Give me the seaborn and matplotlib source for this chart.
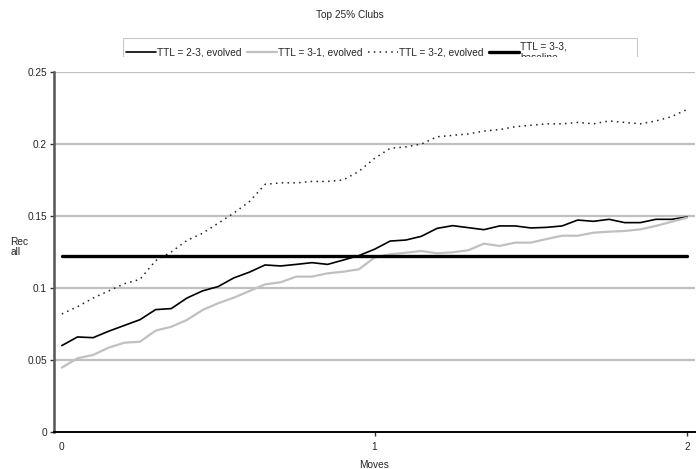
import numpy as np
import pandas as pd
import matplotlib
matplotlib.use("Agg")
import matplotlib.pyplot as plt
from matplotlib.patches import Rectangle
import seaborn as sns

# ---- data ----
moves = [round(i * 0.05, 2) for i in range(41)]
ttl_23 = [0.060, 0.066, 0.0655, 0.070, 0.074, 0.078, 0.085, 0.0857, 0.093, 0.098,
          0.101, 0.107, 0.111, 0.116, 0.1153, 0.1164, 0.1176, 0.1164, 0.1194, 0.1225,
          0.1269, 0.1326, 0.1333, 0.1359, 0.1414, 0.1433, 0.1419, 0.1405, 0.1431, 0.1431,
          0.1417, 0.1421, 0.1431, 0.1472, 0.1463, 0.1477, 0.1454, 0.1454, 0.1477, 0.1477,
          0.1493]
ttl_31 = [0.0447, 0.0512, 0.0535, 0.0586, 0.0620, 0.0627, 0.0704, 0.0731, 0.0778, 0.0847,
          0.0894, 0.0933, 0.0979, 0.1025, 0.104, 0.1079, 0.1079, 0.1102, 0.1113, 0.1130,
          0.1211, 0.1234, 0.1245, 0.1257, 0.1241, 0.1248, 0.1262, 0.1308, 0.1292, 0.1315,
          0.1315, 0.1340, 0.1363, 0.1363, 0.1384, 0.1391, 0.1396, 0.1407, 0.1431, 0.1460,
          0.1488]
ttl_32 = [0.082, 0.087, 0.093, 0.098, 0.103, 0.106, 0.119, 0.125, 0.133, 0.138,
          0.145, 0.152, 0.160, 0.172, 0.173, 0.173, 0.174, 0.174, 0.175, 0.181,
          0.190, 0.197, 0.198, 0.200, 0.205, 0.206, 0.207, 0.209, 0.210, 0.212,
          0.213, 0.214, 0.214, 0.215, 0.214, 0.216, 0.215, 0.214, 0.216, 0.219,
          0.224]
ttl_33 = [0.122] * 41
labels = ["TTL = 2-3, evolved", "TTL = 3-1, evolved", "TTL = 3-2, evolved",
          "TTL = 3-3,\nbaseline"]
yticks = [0, 0.05, 0.1, 0.15, 0.2, 0.25]
ytick_labels = ["0", "0.05", "0.1", "0.15", "0.2", "0.25"]
xticks = [0, 1, 2]
xtick_labels = ["0", "1", "2"]

df = pd.DataFrame({"Moves": moves, labels[0]: ttl_23, labels[1]: ttl_31,
                   labels[2]: ttl_32, labels[3]: ttl_33})

sns.set_theme(style="white")
plt.rcParams["font.family"] = ["Liberation Sans", "DejaVu Sans"]

FS = 7.3
W, H = 698, 469
fig = plt.figure(figsize=(W / 100, H / 100), dpi=100)
ax = fig.add_axes([54 / W, 1 - 432 / H, 641 / W, 360 / H])

styles = [
    dict(color="black", lw=1.2, ls="-"),
    dict(color="#c0c0c0", lw=1.6, ls="-"),
    dict(color="#222222", lw=1.1, ls=(0, (1, 2.8))),
    dict(color="black", lw=2.4, ls="-"),
]
for lab, st in zip(labels, styles):
    sns.lineplot(data=df, x="Moves", y=lab, ax=ax, color=st["color"],
                 linewidth=st["lw"], linestyle=st["ls"], label=lab, legend=False, zorder=3)

ax.set_xlim(-0.025, 2.025)
ax.set_ylim(0, 0.25)
ax.set_yticks(yticks)
ax.set_yticklabels(ytick_labels)
ax.set_xticks(xticks)
ax.set_xticklabels(xtick_labels)
for y in yticks[1:]:
    ax.axhline(y, color="#c0c0c0", lw=1.6, zorder=1)

for s in ["top", "right"]:
    ax.spines[s].set_visible(False)
ax.spines["left"].set_color("#555555")
ax.spines["left"].set_linewidth(1.8)
ax.spines["bottom"].set_color("black")
ax.spines["bottom"].set_linewidth(1.4)
ax.tick_params(axis="both", which="major", direction="out", length=3, width=1,
               labelsize=FS, color="#333333", pad=2,
               left=True, bottom=True)
ax.tick_params(axis="x", pad=4)
ax.xaxis.get_major_ticks()[0].tick1line.set_visible(False)

ax.set_xlabel("Moves", fontsize=FS, labelpad=6)
ax.set_ylabel("Rec\nall", fontsize=FS, rotation=0, ha="left", va="center",
              linespacing=1.0)
ax.yaxis.set_label_coords(-0.068, 0.515)

fig.text(350 / W, 1 - 15 / H, "Top 25% Clubs", ha="center", va="center", fontsize=FS)

handles, labs = ax.get_legend_handles_labels()
labs[3] = "TTL = 3-3,                       \nbaseline"
leg = fig.legend(handles, labs, loc="upper left", bbox_to_anchor=(123 / W, 1 - 38 / H),
                 ncol=4, fontsize=FS, frameon=True, fancybox=False,
                 edgecolor="#bbbbbb", handlelength=3.0, handletextpad=0.1,
                 columnspacing=0.5, borderpad=0.3, borderaxespad=0)
leg.get_frame().set_linewidth(0.8)
fig.add_artist(Rectangle((110 / W, 1 - 71 / H), 540 / W, 14 / H,
                         transform=fig.transFigure, facecolor="white",
                         edgecolor="none", zorder=10))

fig.savefig("out.png", dpi=100)
